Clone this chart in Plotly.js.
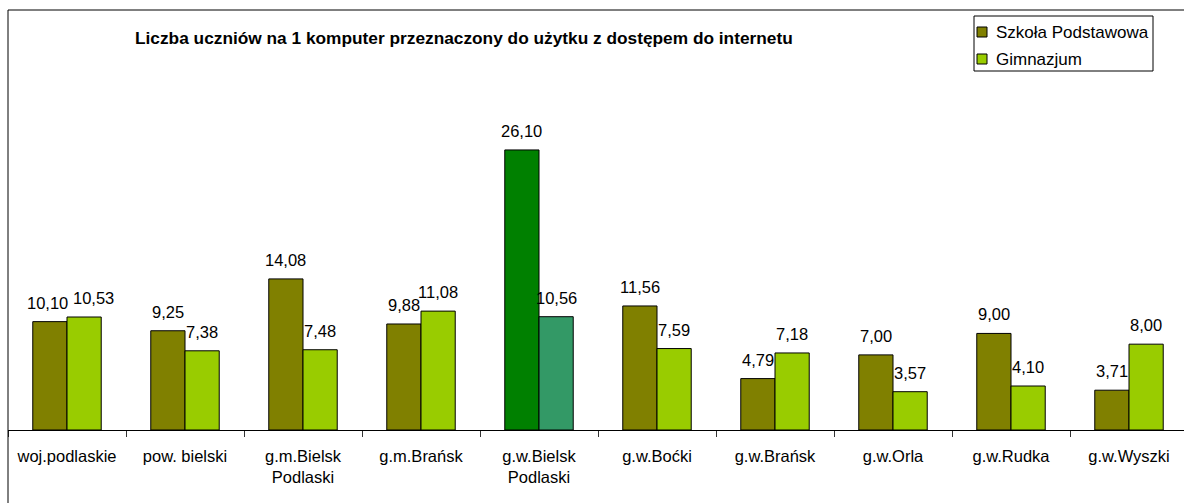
<!DOCTYPE html>
<html>
<head>
<meta charset="utf-8">
<script src="https://cdn.plot.ly/plotly-3.0.1.min.js"></script>
<style>html,body{margin:0;padding:0;background:#fff;}#chart{width:1184px;height:503px;}</style>
</head>
<body>
<div id="chart"></div>
<script>
const categories = ["woj.podlaskie", "pow. bielski", "g.m.Bielsk<br>Podlaski", "g.m.Brańsk", "g.w.Bielsk<br>Podlaski", "g.w.Boćki", "g.w.Brańsk", "g.w.Orla", "g.w.Rudka", "g.w.Wyszki"];
const szkolaPodstawowa = [10.10, 9.25, 14.08, 9.88, 26.10, 11.56, 4.79, 7.00, 9.00, 3.71];
const gimnazjum = [10.53, 7.38, 7.48, 11.08, 10.56, 7.59, 7.18, 3.57, 4.10, 8.00];
const seriesNames = ["Szkoła Podstawowa", "Gimnazjum"];
const titleText = "Liczba uczniów na 1 komputer przeznaczony do użytku z dostępem do internetu";

const colorSP = "#808000", colorG = "#99CC00";
const highlightSP = "#008000", highlightG = "#339966";
const highlightIdx = 4;

const fmt = v => v.toFixed(2).replace('.', ',');
const font = "Liberation Sans, Arial, sans-serif";

const W = 1184, H = 503, plotTop = 10, plotBottom = 430, plotLeft = 8;
const plotW = W - plotLeft, plotH = plotBottom - plotTop;
const pxPerUnit = 10.73;
const yMax = plotH / pxPerUnit;
const catW = 118;
const bargap = 0.42;
const barHalf = catW * (1 - bargap) / 4;
// label nudges (series index, category index) -> extra px to the right, to avoid overlap as in the original
const labelNudge = {"1-0": 9, "0-0": -2};

const series = [
  {name: seriesNames[0], values: szkolaPodstawowa, base: colorSP, hi: highlightSP, side: -1},
  {name: seriesNames[1], values: gimnazjum, base: colorG, hi: highlightG, side: 1}
];

const traces = series.map(s => ({
  type: 'bar',
  name: s.name,
  x: categories,
  y: s.values,
  marker: {
    color: s.values.map((v, i) => i === highlightIdx ? s.hi : s.base),
    line: {color: '#000', width: 1}
  },
  hoverinfo: 'x+y'
}));

const labelAnnotations = [];
series.forEach((s, k) => {
  s.values.forEach((v, i) => {
    labelAnnotations.push({
      x: categories[i], y: v, xref: 'x', yref: 'y',
      text: fmt(v), showarrow: false,
      xanchor: 'center', yanchor: 'middle',
      xshift: s.side * barHalf + (labelNudge[k + '-' + i] || 0), yshift: 19,
      font: {family: font, size: 16.5, color: '#000'}
    });
  });
});

const px = x => (x - plotLeft) / plotW;
const py = y => (plotBottom - y) / plotH;

const legendBox = {x0: 974, x1: 1153, y0: 16, y1: 71};
const legendRows = [32, 59];
const legendColors = [colorSP, colorG];
const legendShapes = [
  {type: 'rect', xref: 'paper', yref: 'paper', x0: px(legendBox.x0), x1: px(legendBox.x1), y0: py(legendBox.y1), y1: py(legendBox.y0), line: {color: '#000', width: 1}, fillcolor: '#fff', layer: 'above'}
];
const legendAnnotations = [];
seriesNames.forEach((n, k) => {
  legendShapes.push({type: 'rect', xref: 'paper', yref: 'paper', x0: px(977), x1: px(987), y0: py(legendRows[k] + 5), y1: py(legendRows[k] - 5), line: {color: '#000', width: 1}, fillcolor: legendColors[k], layer: 'above'});
  legendAnnotations.push({text: n, xref: 'paper', yref: 'paper', x: px(994), y: py(legendRows[k]), xanchor: 'left', yanchor: 'middle', showarrow: false, font: {family: font, size: 17, color: '#000'}});
});

const layout = {
  width: W, height: H,
  margin: {l: plotLeft, r: 0, t: plotTop, b: H - plotBottom, pad: 0},
  paper_bgcolor: '#fff', plot_bgcolor: '#fff',
  barmode: 'group',
  bargap: bargap,
  bargroupgap: 0,
  showlegend: false,
  xaxis: {
    type: 'category',
    range: [-0.5, -0.5 + plotW / catW],
    showline: true, linecolor: '#000', linewidth: 1,
    ticks: 'outside', tickson: 'boundaries', ticklen: 6, tickcolor: '#333',
    ticklabelstandoff: 11,
    tickfont: {family: font, size: 16.5, color: '#000'},
    showgrid: false, zeroline: false, fixedrange: true
  },
  yaxis: {
    range: [0, yMax], visible: false, showgrid: false, zeroline: false, fixedrange: true
  },
  annotations: [{
    text: '<b>' + titleText + '</b>',
    xref: 'paper', yref: 'paper',
    x: px(464), xanchor: 'center',
    y: py(38), yanchor: 'middle',
    showarrow: false,
    font: {family: font, size: 17.3, color: '#000'}
  }].concat(labelAnnotations, legendAnnotations),
  shapes: [
    {type: 'line', xref: 'paper', yref: 'paper', x0: 0, x1: 0, y0: -(H - plotBottom) / plotH, y1: 1, line: {color: '#000', width: 1}},
    {type: 'line', xref: 'paper', yref: 'paper', x0: 0, x1: 1.01, y0: 1, y1: 1, line: {color: '#000', width: 1}}
  ].concat(legendShapes)
};

Plotly.newPlot('chart', traces, layout, {displayModeBar: false, staticPlot: true});
</script>
</body>
</html>
